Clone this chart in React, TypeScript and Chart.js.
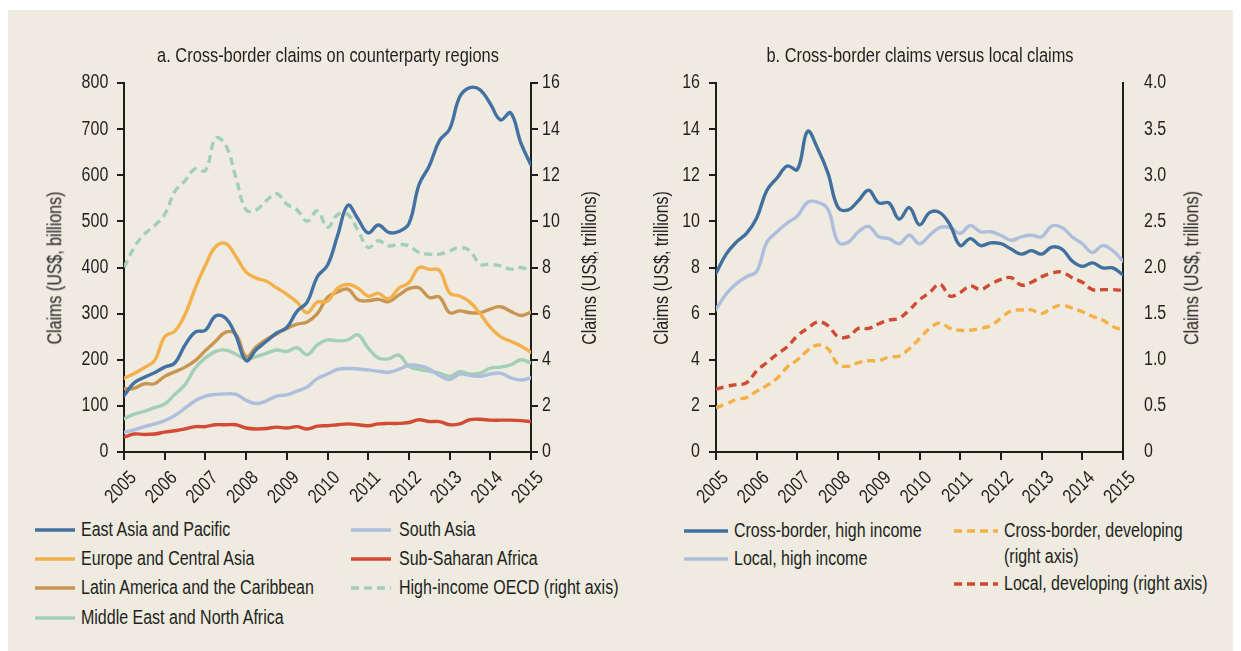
import React, { useEffect, useRef } from 'react';
import { Chart, registerables } from 'chart.js';

Chart.register(...registerables);

const FONT = "'Liberation Sans', Arial, sans-serif";
const SX = 0.82; // horizontal condensing, to mimic a narrow typeface
const TEXT = '#231F20';
const AXIS = '#1E1E1E';
const BG = '#EFEBE1';

// Quarterly observation dates (x positions of the data, 2005Q1 .. 2015Q1)
const quarters: number[] = Array.from({ length: 41 }, (_, i) => 2005 + i / 4);
const yearTicks = [2005, 2006, 2007, 2008, 2009, 2010, 2011, 2012, 2013, 2014, 2015];

// Panel a: US$ billions (left axis) / trillions (right axis)
const eastAsiaPacific = [122, 150, 162, 172, 184, 193, 232, 260, 264, 295, 290, 252, 198, 222, 240, 258, 270, 305, 325, 380, 405, 470, 535, 505, 475, 492, 476, 478, 495, 580, 620, 675, 700, 770, 790, 785, 755, 720, 735, 670, 622];
const europeCentralAsia = [160, 170, 183, 198, 250, 262, 298, 355, 405, 445, 452, 424, 390, 377, 370, 356, 342, 325, 302, 325, 327, 355, 363, 355, 338, 344, 332, 355, 367, 400, 396, 394, 345, 338, 325, 300, 270, 250, 240, 230, 216];
const latinAmericaCaribbean = [137, 138, 148, 148, 164, 174, 184, 198, 220, 240, 260, 255, 207, 228, 244, 256, 268, 277, 282, 300, 335, 347, 353, 330, 328, 331, 326, 340, 354, 356, 335, 336, 302, 306, 302, 302, 310, 315, 305, 296, 303];
const middleEastNorthAfrica = [72, 82, 88, 96, 104, 125, 146, 182, 204, 218, 221, 212, 202, 207, 214, 221, 218, 226, 211, 232, 243, 241, 243, 254, 225, 204, 202, 210, 186, 179, 175, 171, 164, 174, 169, 171, 182, 184, 189, 200, 193];
const southAsia = [43, 48, 55, 61, 68, 79, 95, 111, 121, 125, 126, 125, 112, 105, 111, 121, 124, 132, 141, 159, 169, 179, 181, 180, 178, 175, 173, 179, 188, 187, 180, 166, 157, 169, 166, 164, 169, 171, 161, 156, 161];
const subSaharanAfrica = [32, 39, 38, 39, 43, 46, 50, 55, 55, 59, 59, 59, 52, 50, 51, 54, 52, 55, 50, 56, 57, 59, 61, 59, 57, 61, 62, 62, 64, 70, 66, 66, 59, 61, 70, 71, 69, 69, 69, 68, 66];
const highIncomeOECD = [8.0, 8.87, 9.45, 9.81, 10.3, 11.3, 11.77, 12.28, 12.2, 13.6, 13.3, 11.9, 10.5, 10.5, 10.9, 11.2, 10.75, 10.5, 10.0, 10.46, 9.74, 10.3, 10.3, 9.6, 8.87, 9.16, 8.94, 9.0, 8.94, 8.65, 8.58, 8.58, 8.72, 8.87, 8.72, 8.14, 8.14, 8.07, 7.93, 8.0, 7.86];

// Panel b: US$ trillions
const crossBorderHigh = [7.75, 8.58, 9.1, 9.48, 10.15, 11.35, 11.88, 12.4, 12.25, 13.9, 13.15, 12.1, 10.6, 10.5, 10.9, 11.35, 10.8, 10.8, 10.1, 10.6, 9.85, 10.38, 10.38, 9.85, 8.95, 9.25, 8.95, 9.07, 9.03, 8.8, 8.58, 8.73, 8.58, 8.88, 8.8, 8.28, 8.05, 8.2, 7.98, 7.98, 7.68];
const localHigh = [6.18, 6.85, 7.3, 7.6, 7.83, 9.1, 9.55, 9.93, 10.23, 10.83, 10.83, 10.53, 9.1, 9.1, 9.55, 9.78, 9.33, 9.25, 9.03, 9.4, 9.03, 9.4, 9.73, 9.73, 9.48, 9.82, 9.55, 9.55, 9.4, 9.18, 9.33, 9.4, 9.33, 9.8, 9.73, 9.33, 9.03, 8.65, 8.95, 8.73, 8.28];
const crossBorderDeveloping = [0.48, 0.52, 0.57, 0.59, 0.66, 0.72, 0.8, 0.92, 1.0, 1.1, 1.16, 1.12, 0.95, 0.93, 0.97, 0.99, 0.99, 1.03, 1.04, 1.12, 1.23, 1.34, 1.4, 1.34, 1.32, 1.32, 1.34, 1.37, 1.45, 1.53, 1.54, 1.54, 1.5, 1.56, 1.59, 1.56, 1.52, 1.47, 1.43, 1.36, 1.32];
const localDeveloping = [0.68, 0.71, 0.73, 0.75, 0.88, 0.97, 1.06, 1.14, 1.26, 1.34, 1.41, 1.37, 1.25, 1.25, 1.34, 1.34, 1.39, 1.43, 1.45, 1.54, 1.65, 1.73, 1.82, 1.69, 1.73, 1.8, 1.76, 1.82, 1.87, 1.89, 1.81, 1.84, 1.9, 1.94, 1.95, 1.89, 1.84, 1.76, 1.76, 1.76, 1.75];

const C = {
  eap: '#4371A3',
  eca: '#F3B04D',
  lac: '#C99552',
  mena: '#A3D0B4',
  sa: '#AEBEDD',
  ssa: '#D14B35',
  oecd: '#A3D0B4',
  cbHigh: '#41709F',
  locHigh: '#AEBEDD',
  cbDev: '#F5B048',
  locDev: '#D04B33',
};

const DASH = [8, 5];
const LW = 3.4;

function pts(values: number[]) {
  return values.map((v, i) => ({ x: quarters[i], y: v }));
}

function line(label: string, values: number[], color: string, axis: string, dashed = false) {
  return {
    label,
    data: pts(values),
    borderColor: color,
    backgroundColor: color,
    borderWidth: LW,
    borderDash: dashed ? DASH : [],
    borderCapStyle: dashed ? 'butt' : 'round',
    borderJoinStyle: 'round',
    pointRadius: 0,
    tension: 0.4,
    fill: false,
    yAxisID: axis,
  };
}

function xScale() {
  return {
    type: 'linear',
    min: 2005,
    max: 2015,
    afterBuildTicks: (s: any) => {
      s.ticks = yearTicks.map((v) => ({ value: v }));
    },
    ticks: { display: false, autoSkip: false },
    grid: { drawOnChartArea: false, drawTicks: true, tickLength: 8, color: AXIS, lineWidth: 2 },
    border: { display: true, color: AXIS, width: 2 },
    afterFit: (s: any) => {
      s.height = 58;
    },
  };
}

function yScale(position: string, min: number, max: number, step: number, width: number, showTicks: boolean) {
  return {
    type: 'linear',
    position,
    min,
    max,
    ticks: { display: false, stepSize: step },
    grid: showTicks
      ? { drawOnChartArea: false, drawTicks: true, tickLength: 7, color: AXIS, lineWidth: 2 }
      : { display: false, drawOnChartArea: false, drawTicks: false, tickLength: 0 },
    border: { display: true, color: AXIS, width: 2 },
    afterFit: (s: any) => {
      s.width = width;
    },
  };
}

type LabelSpec = {
  xDx: number;
  xDy: number;
  left: { gap: number; fmt: (v: number) => string };
  right: { gap: number; fmt: (v: number) => string };
};

function drawCondensed(ctx: CanvasRenderingContext2D, text: string, x: number, y: number, align: CanvasTextAlign, angle = 0) {
  ctx.save();
  ctx.translate(x, y);
  if (angle) ctx.rotate(angle);
  ctx.scale(SX, 1);
  ctx.textAlign = align;
  ctx.textBaseline = 'middle';
  ctx.fillText(text, 0, 0);
  ctx.restore();
}

function labelPlugin(spec: LabelSpec) {
  return {
    id: 'condensedLabels',
    afterDraw(chart: any) {
      const { ctx, chartArea } = chart;
      ctx.save();
      ctx.font = `19.5px ${FONT}`;
      ctx.fillStyle = TEXT;
      const xs = chart.scales.x;
      xs.ticks.forEach((t: any) => {
        const px = xs.getPixelForValue(t.value);
        drawCondensed(ctx, String(t.value), px + spec.xDx, chartArea.bottom + spec.xDy, 'right', -Math.PI / 4);
      });
      const yl = chart.scales.y;
      yl.ticks.forEach((t: any) => {
        const py = yl.getPixelForValue(t.value);
        drawCondensed(ctx, spec.left.fmt(t.value), chartArea.left - spec.left.gap, py, 'right');
      });
      const yr = chart.scales.y1;
      yr.ticks.forEach((t: any) => {
        const py = yr.getPixelForValue(t.value);
        drawCondensed(ctx, spec.right.fmt(t.value), chartArea.right + spec.right.gap, py, 'left');
      });
      ctx.restore();
    },
  };
}

function useChart(ref: React.RefObject<HTMLCanvasElement>, makeConfig: () => any) {
  useEffect(() => {
    if (!ref.current) return;
    const chart = new Chart(ref.current, makeConfig());
    return () => chart.destroy();
  }, []);
}

const baseOptions = {
  responsive: false,
  animation: false,
  events: [],
  layout: { padding: { top: 73, left: 0, right: 0, bottom: 0 } },
  plugins: { legend: { display: false }, tooltip: { enabled: false }, title: { display: false } },
};

const plain = (v: number) => String(v);

function PanelA() {
  const ref = useRef<HTMLCanvasElement>(null);
  useChart(ref, () => ({
    type: 'line',
    data: {
      datasets: [
        line('East Asia and Pacific', eastAsiaPacific, C.eap, 'y'),
        line('Europe and Central Asia', europeCentralAsia, C.eca, 'y'),
        line('Latin America and the Caribbean', latinAmericaCaribbean, C.lac, 'y'),
        line('South Asia', southAsia, C.sa, 'y'),
        line('Middle East and North Africa', middleEastNorthAfrica, C.mena, 'y'),
        line('Sub-Saharan Africa', subSaharanAfrica, C.ssa, 'y'),
        line('High-income OECD (right axis)', highIncomeOECD, C.oecd, 'y1', true),
      ],
    },
    options: {
      ...baseOptions,
      scales: {
        x: xScale(),
        y: yScale('left', 0, 800, 100, 116, true),
        y1: yScale('right', 0, 16, 2, 89, true),
      },
    },
    plugins: [labelPlugin({ xDx: 9.5, xDy: 23, left: { gap: 15.7, fmt: plain }, right: { gap: 11, fmt: plain } })],
  }));
  return <canvas ref={ref} width={612} height={500} style={{ position: 'absolute', left: 0, top: 0 }} />;
}

function PanelB() {
  const ref = useRef<HTMLCanvasElement>(null);
  useChart(ref, () => ({
    type: 'line',
    data: {
      datasets: [
        line('Cross-border, high income', crossBorderHigh, C.cbHigh, 'y'),
        line('Local, high income', localHigh, C.locHigh, 'y'),
        line('Local, developing (right axis)', localDeveloping, C.locDev, 'y1', true),
        line('Cross-border, developing (right axis)', crossBorderDeveloping, C.cbDev, 'y1', true),
      ],
    },
    options: {
      ...baseOptions,
      scales: {
        x: xScale(),
        y: yScale('left', 0, 16, 2, 96, true),
        y1: yScale('right', 0, 4, 0.5, 110, false),
      },
    },
    plugins: [
      labelPlugin({
        xDx: 9.5,
        xDy: 23,
        left: { gap: 16, fmt: plain },
        right: { gap: 21, fmt: (v) => (v === 0 ? '0' : v.toFixed(1)) },
      }),
    ],
  }));
  return <canvas ref={ref} width={613} height={500} style={{ position: 'absolute', left: 612, top: 0 }} />;
}

const textStyle: React.CSSProperties = {
  position: 'absolute',
  fontFamily: FONT,
  fontSize: 19.5,
  color: TEXT,
  whiteSpace: 'nowrap',
  lineHeight: 1,
};

function CenterText({ x, y, text, rotate, size }: { x: number; y: number; text: string; rotate?: boolean; size?: number }) {
  return (
    <div
      style={{
        ...textStyle,
        fontSize: size ?? 19.5,
        left: x,
        top: y,
        transform: `translate(-50%, -50%)${rotate ? ' rotate(-90deg)' : ''} scaleX(${SX})`,
      }}
    >
      {text}
    </div>
  );
}

function LegendItem({ x, y, w, tx, color, dashed, lines }: { x: number; y: number; w: number; tx: number; color: string; dashed?: boolean; lines: string[] }) {
  return (
    <>
      <svg width={w} height={8} style={{ position: 'absolute', left: x, top: y - 4 }}>
        <line x1={0} y1={4} x2={w} y2={4} stroke={color} strokeWidth={3.6} strokeDasharray={dashed ? DASH.join(' ') : undefined} />
      </svg>
      {lines.map((t, i) => (
        <div
          key={i}
          style={{ ...textStyle, left: tx, top: y + i * 26, transformOrigin: 'left center', transform: `translateY(-50%) scaleX(${SX})` }}
        >
          {t}
        </div>
      ))}
    </>
  );
}

export default function App() {
  return (
    <div style={{ position: 'fixed', left: 8, top: 10, width: 1225, height: 641, background: BG, overflow: 'hidden' }}>
      <PanelA />
      <PanelB />
      <CenterText x={319.5} y={45} size={20} text="a. Cross-border claims on counterparty regions" />
      <CenterText x={911.5} y={45} size={20} text="b. Cross-border claims versus local claims" />
      <CenterText x={47} y={257.5} text="Claims (US$, billions)" rotate />
      <CenterText x={582} y={257.5} text="Claims (US$, trillions)" rotate />
      <CenterText x={654} y={257.5} text="Claims (US$, trillions)" rotate />
      <CenterText x={1184} y={257.5} text="Claims (US$, trillions)" rotate />

      <LegendItem x={27} y={520} w={40} tx={73} color={C.eap} lines={['East Asia and Pacific']} />
      <LegendItem x={27} y={549} w={40} tx={73} color={C.eca} lines={['Europe and Central Asia']} />
      <LegendItem x={27} y={578} w={40} tx={73} color={C.lac} lines={['Latin America and the Caribbean']} />
      <LegendItem x={27} y={608} w={40} tx={73} color={C.mena} lines={['Middle East and North Africa']} />
      <LegendItem x={343} y={520} w={40} tx={391} color={C.sa} lines={['South Asia']} />
      <LegendItem x={343} y={549} w={40} tx={391} color={C.ssa} lines={['Sub-Saharan Africa']} />
      <LegendItem x={343} y={578} w={40} tx={391} color={C.oecd} dashed lines={['High-income OECD (right axis)']} />

      <LegendItem x={676} y={521} w={44} tx={726} color={C.cbHigh} lines={['Cross-border, high income']} />
      <LegendItem x={676} y={549} w={44} tx={726} color={C.locHigh} lines={['Local, high income']} />
      <LegendItem x={946} y={521} w={44} tx={996} color={C.cbDev} dashed lines={['Cross-border, developing', '(right axis)']} />
      <LegendItem x={946} y={574} w={44} tx={996} color={C.locDev} dashed lines={['Local, developing (right axis)']} />
    </div>
  );
}
